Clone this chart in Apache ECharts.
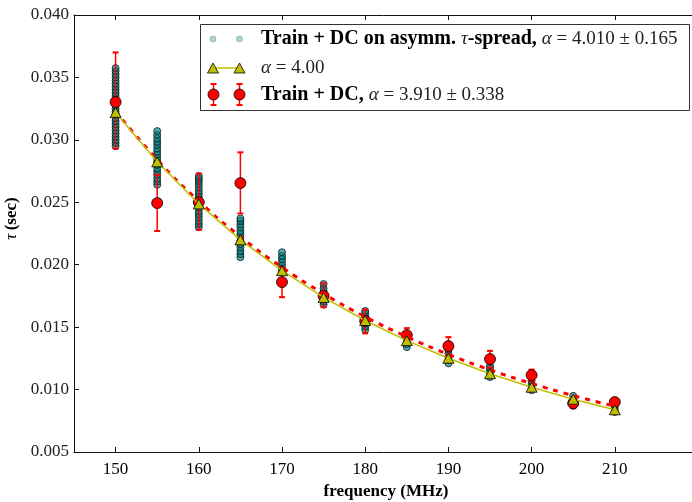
<!DOCTYPE html>
<html>
<head>
<meta charset="utf-8">
<title>tau vs frequency</title>
<script src="https://cdn.jsdelivr.net/npm/echarts@6/dist/echarts.min.js"></script>
<style>
  html, body { margin: 0; padding: 0; background: #fff; }
  #chart { width: 692px; height: 502px; }
</style>
</head>
<body>
<div id="chart"></div>
<script>
// frequencies (MHz)
const freqs = [150, 155, 160, 165, 170, 175, 180, 185, 190, 195, 200, 205, 210]

// Train + DC on asymm. tau-spread: one column of samples for each frequency
const spreadTau = [
  [0.0295, 0.02975, 0.0300, 0.03025, 0.0305, 0.03075, 0.0310, 0.03125, 0.0315, 0.03175, 0.0320, 0.03225, 0.0325,
    0.03275, 0.0330, 0.03325, 0.0335, 0.03375, 0.0340, 0.03425, 0.0345, 0.03475, 0.0350, 0.03525, 0.0355, 0.03575],
  [0.0264, 0.02665, 0.0269, 0.0272, 0.02745, 0.0277, 0.0280, 0.02825, 0.0285, 0.0288, 0.02905, 0.0293, 0.0296,
    0.02985, 0.0301, 0.0304, 0.0307],
  [0.0230, 0.02325, 0.0235, 0.0238, 0.02405, 0.0243, 0.0246, 0.02485, 0.0251, 0.0254, 0.02565, 0.0259, 0.0262,
    0.02645, 0.0267, 0.0269, 0.0271],
  [0.0206, 0.02085, 0.0211, 0.0214, 0.02165, 0.0219, 0.0222, 0.02245, 0.0227, 0.0230, 0.02325, 0.0235, 0.0237],
  [0.0194, 0.01965, 0.0199, 0.0202, 0.02045, 0.0207, 0.0210],
  [0.0168, 0.01705, 0.0173, 0.0176, 0.01785, 0.0181, 0.01845],
  [0.0148, 0.01505, 0.0153, 0.0156, 0.01585, 0.0161, 0.0163],
  [0.0134, 0.01365, 0.0139, 0.0142, 0.0144],
  [0.0121, 0.01235, 0.0126, 0.0129, 0.0132],
  [0.0110, 0.01125, 0.0115, 0.0117, 0.0119],
  [0.00995, 0.0102, 0.01045, 0.0107],
  [0.0087, 0.00895, 0.0092, 0.0095],
  [0.0082, 0.00845, 0.0087],
]

// alpha = 4.00 model (triangles)
const modelTau = [0.0322, 0.02824, 0.02487, 0.02199, 0.01952, 0.01738, 0.01553, 0.01392, 0.01251, 0.01127, 0.01019, 0.00923, 0.00838]

// Train + DC (red points) with error bar ends
const dcTau = [0.03303, 0.02494, 0.0250, 0.02654, 0.01861, 0.0175, 0.0155, 0.01436, 0.01348, 0.01244, 0.01115, 0.00891, 0.0090]
const dcLow = [0.0293, 0.0227, 0.0228, 0.0241, 0.0174, 0.0166, 0.0145, 0.0138, 0.01278, 0.01174, 0.01065, 0.00851, 0.0087]
const dcHigh = [0.0370, 0.0272, 0.0273, 0.0290, 0.0198, 0.0185, 0.0164, 0.01492, 0.0142, 0.0131, 0.0116, 0.00931, 0.0093]

// fitted curve for Train + DC (red dashed)
const fitTau = [0.0323, 0.02841, 0.0251, 0.02225, 0.0198, 0.01768, 0.01583, 0.01423, 0.01282, 0.01158, 0.01049, 0.00952, 0.00867]

const xTicks = [150, 160, 170, 180, 190, 200, 210]

const serif = '"Liberation Serif", "DejaVu Serif", serif'
const teal = 'rgba(0, 128, 128, 0.65)'
const tealEdge = 'rgba(0, 20, 20, 0.75)'
const tealLight = 'rgba(0, 128, 128, 0.32)'
const tealLightEdge = 'rgba(0, 60, 60, 0.25)'
const olive = '#bfbf00'

const chart = echarts.init(document.getElementById('chart'))

// scatter columns
const spreadData = []
freqs.forEach((f, i) => {
  spreadTau[i].forEach((t) => spreadData.push([f, t]))
})

const legendRich = {
  b: { fontFamily: serif, fontSize: 20, fontWeight: 'bold', fill: '#000' },
  i: { fontFamily: serif, fontSize: 19, fontStyle: 'italic', fill: '#222' },
  r: { fontFamily: serif, fontSize: 19, fill: '#222' },
}

const option = {
  animation: false,
  backgroundColor: '#fff',
  grid: { left: 74, top: 15, width: 624, height: 437, outerBoundsMode: 'none', containLabel: false },
  xAxis: [
    {
      type: 'value',
      min: 145,
      max: 220,
      position: 'bottom',
      axisLine: { show: true, onZero: false, lineStyle: { color: '#111', width: 1 } },
      axisTick: { show: true, inside: true, length: 5, customValues: xTicks, lineStyle: { color: '#111' } },
      axisLabel: { customValues: xTicks, fontFamily: serif, fontSize: 17, color: '#000', margin: 9 },
      splitLine: { show: false },
      name: 'frequency (MHz)',
      nameLocation: 'middle',
      nameGap: 31,
      nameTextStyle: { fontFamily: serif, fontSize: 17, fontWeight: 'bold', color: '#000' },
    },
    {
      type: 'value',
      min: 145,
      max: 220,
      position: 'top',
      axisLine: { show: true, onZero: false, lineStyle: { color: '#111', width: 1 } },
      axisTick: { show: true, inside: true, length: 5, customValues: xTicks, lineStyle: { color: '#111' } },
      axisLabel: { show: false },
      splitLine: { show: false },
    },
  ],
  yAxis: {
    type: 'value',
    min: 0.005,
    max: 0.040,
    interval: 0.005,
    axisLine: { show: true, onZero: false, lineStyle: { color: '#111', width: 1 } },
    axisTick: { show: true, inside: true, length: 5, lineStyle: { color: '#111' } },
    axisLabel: {
      formatter: (v) => v.toFixed(3),
      fontFamily: serif,
      fontSize: 17,
      color: '#222',
      margin: 5,
    },
    splitLine: { show: false },
    name: '{i|τ} {b|(sec)}',
    nameLocation: 'middle',
    nameGap: 50,
    nameTextStyle: {
      padding: [0, 0, 0, 30],
      rich: {
        i: { fontFamily: serif, fontSize: 17, fontStyle: 'italic', color: '#000' },
        b: { fontFamily: serif, fontSize: 17, fontWeight: 'bold', color: '#000' },
      },
    },
  },
  series: [
    {
      name: 'spread',
      type: 'scatter',
      data: spreadData,
      symbol: 'circle',
      symbolSize: 7,
      itemStyle: { color: teal, borderColor: tealEdge, borderWidth: 1, opacity: 1 },
      z: 1,
    },
    {
      name: 'dc errors',
      type: 'custom',
      data: freqs.map((f, i) => [f, dcLow[i], dcHigh[i]]),
      renderItem: (params, api) => {
        const lo = api.coord([api.value(0), api.value(1)])
        const hi = api.coord([api.value(0), api.value(2)])
        return {
          type: 'group',
          children: [
            { type: 'line', shape: { x1: lo[0], y1: lo[1], x2: hi[0], y2: hi[1] }, style: { stroke: '#ff0000', lineWidth: 1.5 } },
            { type: 'line', shape: { x1: lo[0] - 3, y1: lo[1], x2: lo[0] + 3, y2: lo[1] }, style: { stroke: '#ff0000', lineWidth: 2 } },
            { type: 'line', shape: { x1: hi[0] - 3, y1: hi[1], x2: hi[0] + 3, y2: hi[1] }, style: { stroke: '#ff0000', lineWidth: 2 } },
          ],
        }
      },
      z: 2,
    },
    {
      name: 'dc',
      type: 'scatter',
      data: freqs.map((f, i) => [f, dcTau[i]]),
      symbol: 'circle',
      symbolSize: 11,
      itemStyle: { color: '#ff0000', borderColor: '#000', borderWidth: 0.8, opacity: 1 },
      z: 3,
    },
    {
      name: 'fit',
      type: 'line',
      data: freqs.map((f, i) => [f, fitTau[i]]),
      smooth: true,
      showSymbol: false,
      lineStyle: { color: '#ff0000', width: 3, type: [5, 6] },
      z: 4,
    },
    {
      name: 'model',
      type: 'line',
      data: freqs.map((f, i) => [f, modelTau[i]]),
      symbol: 'triangle',
      symbolSize: [11, 10],
      showSymbol: true,
      lineStyle: { color: olive, width: 1.5 },
      itemStyle: { color: olive, borderColor: '#000', borderWidth: 0.8, opacity: 1 },
      z: 5,
    },
  ],
  // legend box drawn like the matplotlib one: two markers per row
  graphic: [
    { type: 'rect', z: 100, shape: { x: 200.5, y: 24.5, width: 489, height: 86 }, style: { fill: '#fff', stroke: '#333', lineWidth: 1 } },
    { type: 'circle', z: 101, shape: { cx: 213, cy: 39, r: 3 }, style: { fill: tealLight, stroke: tealLightEdge, lineWidth: 1 } },
    { type: 'circle', z: 101, shape: { cx: 239.5, cy: 39, r: 3 }, style: { fill: tealLight, stroke: tealLightEdge, lineWidth: 1 } },
    { type: 'line', z: 101, shape: { x1: 213, y1: 68, x2: 239.5, y2: 68 }, style: { stroke: olive, lineWidth: 1.5 } },
    { type: 'polygon', z: 102, shape: { points: [[213, 63], [218.5, 73], [207.5, 73]] }, style: { fill: olive, stroke: '#000', lineWidth: 0.8 } },
    { type: 'polygon', z: 102, shape: { points: [[239.5, 63], [245, 73], [234, 73]] }, style: { fill: olive, stroke: '#000', lineWidth: 0.8 } },
    { type: 'line', z: 101, shape: { x1: 213.5, y1: 84, x2: 213.5, y2: 105 }, style: { stroke: '#ff0000', lineWidth: 1.5 } },
    { type: 'line', z: 101, shape: { x1: 210.5, y1: 84, x2: 216.5, y2: 84 }, style: { stroke: '#ff0000', lineWidth: 2 } },
    { type: 'line', z: 101, shape: { x1: 210.5, y1: 105, x2: 216.5, y2: 105 }, style: { stroke: '#ff0000', lineWidth: 2 } },
    { type: 'line', z: 101, shape: { x1: 239.5, y1: 84, x2: 239.5, y2: 105 }, style: { stroke: '#ff0000', lineWidth: 1.5 } },
    { type: 'line', z: 101, shape: { x1: 236.5, y1: 84, x2: 242.5, y2: 84 }, style: { stroke: '#ff0000', lineWidth: 2 } },
    { type: 'line', z: 101, shape: { x1: 236.5, y1: 105, x2: 242.5, y2: 105 }, style: { stroke: '#ff0000', lineWidth: 2 } },
    { type: 'circle', z: 102, shape: { cx: 213.5, cy: 94.5, r: 5.5 }, style: { fill: '#ff0000', stroke: '#000', lineWidth: 0.8 } },
    { type: 'circle', z: 102, shape: { cx: 239.5, cy: 94.5, r: 5.5 }, style: { fill: '#ff0000', stroke: '#000', lineWidth: 0.8 } },
    {
      type: 'text', z: 103, x: 261, y: 39,
      style: {
        text: '{b|Train + DC on asymm. }{i|τ}{b|-spread, }{i|α}{r| = 4.010 ± 0.165}',
        verticalAlign: 'middle',
        rich: legendRich,
      },
    },
    {
      type: 'text', z: 103, x: 261, y: 68,
      style: { text: '{i|α}{r| = 4.00}', verticalAlign: 'middle', rich: legendRich },
    },
    {
      type: 'text', z: 103, x: 261, y: 95,
      style: { text: '{b|Train + DC, }{i|α}{r| = 3.910 ± 0.338}', verticalAlign: 'middle', rich: legendRich },
    },
  ],
}

chart.setOption(option)
</script>
</body>
</html>
